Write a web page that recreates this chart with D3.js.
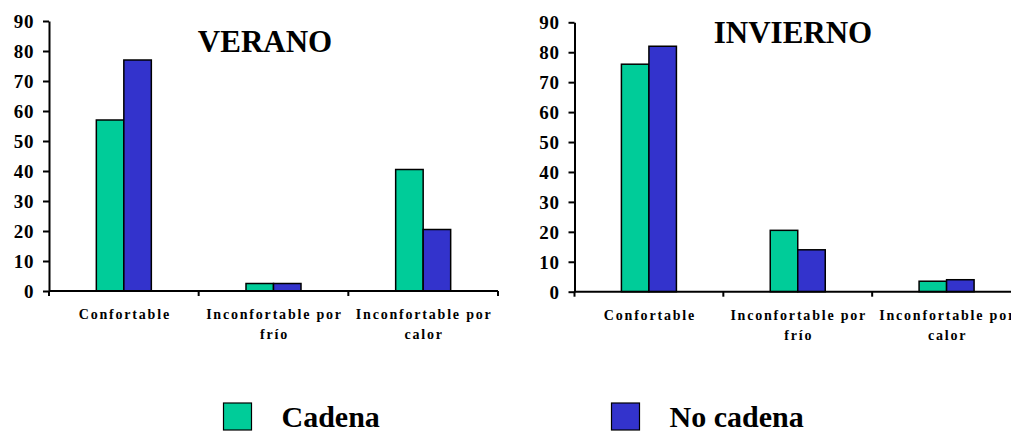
<!DOCTYPE html>
<html>
<head>
<meta charset="utf-8">
<script src="https://cdn.jsdelivr.net/npm/d3@7"></script>
<style>
  html, body { margin: 0; padding: 0; background: #fff; }
  svg { display: block; }
</style>
</head>
<body>
<svg id="chart" width="1011" height="431"></svg>
<script>
// Survey results: comfort of the respondents, by season
const categories = ["Confortable", "Inconfortable por frío", "Inconfortable por calor"];
const categoryLines = [["Confortable"], ["Inconfortable por", "frío"], ["Inconfortable por", "calor"]];
const seriesNames = ["Cadena", "No cadena"];
const seriesColors = ["#00CC99", "#3333CC"];

const veranoCadena = [57, 2.5, 40.5];
const veranoNoCadena = [77, 2.5, 20.5];
const inviernoCadena = [76, 20.5, 3.5];
const inviernoNoCadena = [82, 14, 4];

const yTicks = [0, 10, 20, 30, 40, 50, 60, 70, 80, 90];

const SERIF = "'Liberation Serif', 'Times New Roman', Times, serif";

const svg = d3.select("#chart");

function serif(sel, size) {
  return sel.style("font-family", SERIF)
    .style("font-weight", "bold")
    .style("font-size", size + "px")
    .attr("fill", "#000");
}

function drawPanel(cfg) {
  const g = svg.append("g");

  const x = d3.scaleBand().domain(categories).range([cfg.left, cfg.right]);
  const y = d3.scaleLinear().domain([0, 90]).range([cfg.bottom, cfg.top]);

  const barW = 27.5;
  const xs = d3.scaleBand().domain(seriesNames).range([0, x.bandwidth()])
    .paddingInner(0).paddingOuter((x.bandwidth() / barW - 2) / 2);

  const rows = categories.map((c, i) => ({ cat: c, values: [cfg.series[0][i], cfg.series[1][i]] }));

  // bars
  const groups = g.selectAll("g.cat").data(rows).join("g")
    .attr("class", "cat")
    .attr("transform", d => `translate(${x(d.cat)},0)`);
  groups.selectAll("rect")
    .data(d => d.values.map((v, k) => ({ name: seriesNames[k], v, k })))
    .join("rect")
    .attr("x", d => xs(d.name))
    .attr("width", xs.bandwidth())
    .attr("y", d => y(d.v))
    .attr("height", d => y(0) - y(d.v))
    .attr("fill", d => seriesColors[d.k])
    .attr("stroke", "#000")
    .attr("stroke-width", 1.5);

  // y axis
  const yAxis = d3.axisLeft(y).tickValues(yTicks).tickSize(6).tickSizeOuter(0).tickPadding(9);
  const ya = g.append("g").attr("transform", `translate(${cfg.left},0)`).call(yAxis);
  ya.select(".domain").attr("stroke", "#000").attr("stroke-width", 2);
  ya.selectAll(".tick line").attr("stroke", "#000").attr("stroke-width", 2);
  serif(ya.selectAll(".tick text"), 19)
    .style("letter-spacing", "0.6px")
    .attr("dy", "0.34em");

  // x axis: baseline with ticks at category boundaries
  g.append("line")
    .attr("x1", cfg.left).attr("x2", cfg.right)
    .attr("y1", y(0)).attr("y2", y(0))
    .attr("stroke", "#000").attr("stroke-width", 2);
  const bounds = categories.map(c => x(c)).concat([x.range()[1]]);
  g.selectAll("line.xtick").data(bounds).join("line")
    .attr("class", "xtick")
    .attr("x1", d => d).attr("x2", d => d)
    .attr("y1", y(0)).attr("y2", y(0) + 5)
    .attr("stroke", "#000").attr("stroke-width", 2);

  // category labels
  const lab = serif(g.selectAll("text.catlab").data(categories).join("text"), 14)
    .attr("class", "catlab")
    .attr("text-anchor", "middle")
    .style("letter-spacing", "1.8px")
    .attr("transform", d => `translate(${x(d) + x.bandwidth() / 2 + 1},${y(0) + 28})`);
  lab.selectAll("tspan").data((d, i) => categoryLines[i]).join("tspan")
    .attr("x", 0)
    .attr("y", (d, i) => i * 20)
    .text(d => d);

  // panel title
  serif(g.append("text"), 31)
    .attr("x", cfg.titleX).attr("y", cfg.titleY)
    .attr("text-anchor", "middle")
    .text(cfg.title);
}

drawPanel({
  title: "VERANO", titleX: 265, titleY: 52,
  left: 49, right: 498, top: 21, bottom: 291,
  series: [veranoCadena, veranoNoCadena]
});

drawPanel({
  title: "INVIERNO", titleX: 793, titleY: 43,
  left: 574.5, right: 1021, top: 22.3, bottom: 291.7,
  series: [inviernoCadena, inviernoNoCadena]
});

// legend
const legendX = [223.5, 611.5];
const legend = svg.selectAll("g.legend").data(seriesNames).join("g")
  .attr("class", "legend")
  .attr("transform", (d, i) => `translate(${legendX[i]},403)`);
legend.append("rect")
  .attr("width", 28).attr("height", 27)
  .attr("fill", (d, i) => seriesColors[i])
  .attr("stroke", "#000").attr("stroke-width", 1.2);
serif(legend.append("text"), 30)
  .attr("x", 58).attr("y", 23.5)
  .text(d => d);
</script>
</body>
</html>
